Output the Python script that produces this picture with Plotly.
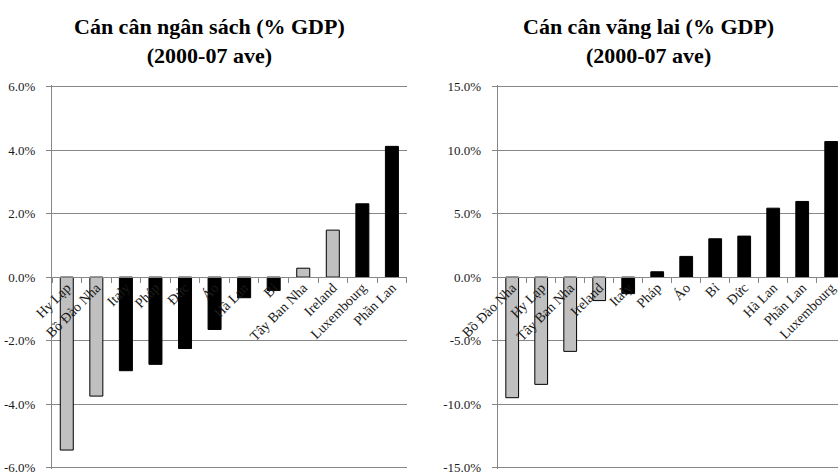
import plotly.graph_objects as go

# Budget balance (% GDP), average 2000-07
budget_countries = ["Hy Lạp", "Bồ Đào Nha", "Italy", "Pháp", "Đức", "Áo",
                    "Hà Lan", "Bỉ", "Tây Ban Nha", "Ireland", "Luxembourg", "Phần Lan"]
budget_values = [-5.45, -3.75, -2.95, -2.75, -2.25, -1.65, -0.65, -0.42, 0.28, 1.48, 2.31, 4.12]
budget_gips = [True, True, False, False, False, False, False, False, True, True, False, False]

# Current account balance (% GDP), average 2000-07
ca_countries = ["Bồ Đào Nha", "Hy Lạp", "Tây Ban Nha", "Ireland", "Italy", "Pháp",
                "Áo", "Bỉ", "Đức", "Hà Lan", "Phần Lan", "Luxembourg"]
ca_values = [-9.5, -8.45, -5.85, -1.85, -1.3, 0.42, 1.63, 3.02, 3.23, 5.43, 5.96, 10.68]
ca_gips = [True, True, True, True, False, False, False, False, False, False, False, False]

budget_ticks = [-6, -4, -2, 0, 2, 4, 6]
budget_ticktext = ["-6.0%", "-4.0%", "-2.0%", "0.0%", "2.0%", "4.0%", "6.0%"]
ca_ticks = [-15, -10, -5, 0, 5, 10, 15]
ca_ticktext = ["-15.0%", "-10.0%", "-5.0%", "0.0%", "5.0%", "10.0%", "15.0%"]

titles = ["Cán cân ngân sách (% GDP)<br>(2000-07 ave)",
          "Cán cân vãng lai (% GDP)<br>(2000-07 ave)"]

W, H = 838, 474
GREY = "#c0c0c0"
AXIS = "#878787"
FONT = "Liberation Serif"
TEXT = "#1a1a1a"


def px_x(v):
    return v / W


def px_y(v):
    return 1 - v / H


# value axes: outer gridlines sit at 86.7px and 468px; pad the range a hair
# so those gridlines are not dropped at the plot edge
TOP, BOT, PAD_PX = 86.7, 467.5, 1.3
y_dom = [px_y(BOT + PAD_PX), px_y(TOP - PAD_PX)]
zero_pos = (y_dom[0] + y_dom[1]) / 2


def padded(lim):
    per_px = 2 * lim / (BOT - TOP)
    e = PAD_PX * per_px
    return [-lim - e, lim + e]


fig = go.Figure()

fig.add_trace(go.Bar(
    x=budget_countries, y=budget_values,
    marker=dict(color=[GREY if g else "#000000" for g in budget_gips],
                line=dict(color="#000000", width=1)),
    xaxis="x", yaxis="y", showlegend=False,
))
fig.add_trace(go.Bar(
    x=ca_countries, y=ca_values,
    marker=dict(color=[GREY if g else "#000000" for g in ca_gips],
                line=dict(color="#000000", width=1)),
    xaxis="x2", yaxis="y2", showlegend=False,
))

xcommon = dict(
    type="category", anchor="free", position=zero_pos, automargin=False,
    showgrid=False, zeroline=False, showline=True, linecolor=AXIS, linewidth=1,
    ticks="outside", ticklen=5, tickcolor=AXIS, tickson="boundaries",
    tickangle=-45, ticklabelstandoff=-4, ticklabeloverflow="allow",
    tickfont=dict(family=FONT, size=14, color=TEXT),
    layer="above traces",
)
ycommon = dict(
    automargin=False,
    showgrid=True, gridcolor=AXIS, gridwidth=1, zeroline=False,
    showline=True, linecolor=AXIS, linewidth=1,
    ticks="outside", ticklen=5, tickcolor=AXIS, ticklabelstandoff=8,
    ticklabeloverflow="allow",
    tickfont=dict(family=FONT, size=13, color=TEXT),
    domain=y_dom,
)

cat_w = 29.0
right_left = 497.7
fig.update_layout(
    template="none",
    width=W, height=H,
    margin=dict(l=0, r=0, t=0, b=0, pad=0),
    paper_bgcolor="white", plot_bgcolor="white",
    bargap=0.56,
    xaxis=dict(xcommon, domain=[px_x(52), px_x(406.7)], range=[-0.5, 11.5]),
    yaxis=dict(ycommon, anchor="x", range=padded(6), tickvals=budget_ticks, ticktext=budget_ticktext),
    xaxis2=dict(xcommon, domain=[px_x(right_left), 1.0],
                range=[-0.5, -0.5 + (W - right_left) / cat_w]),
    yaxis2=dict(ycommon, anchor="x2", range=padded(15), tickvals=ca_ticks, ticktext=ca_ticktext),
)

for text, cx in zip(titles, [209, 648]):
    bold = "<b>" + text.replace("<br>", "</b><br><b>") + "</b>"
    fig.add_annotation(
        text=bold, x=px_x(cx), y=px_y(41), xref="paper", yref="paper",
        xanchor="center", yanchor="middle", showarrow=False,
        font=dict(family=FONT, size=22, color="#000000"),
    )

fig.write_html("out.html")
